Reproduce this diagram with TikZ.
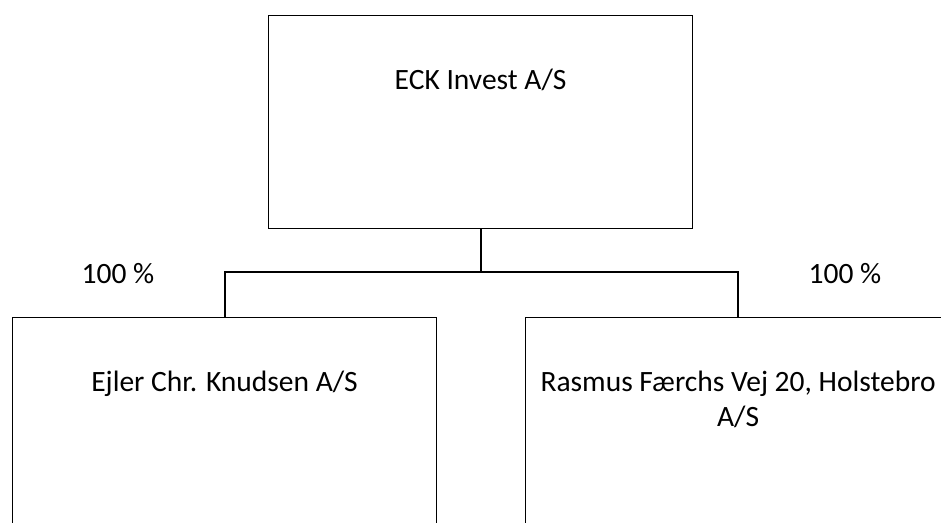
\documentclass[tikz,border=0pt]{standalone}
\usepackage{fontspec}
\setmainfont{Carlito}
\usepackage{tikz}
\usetikzlibrary{positioning}
\tikzset{
    company/.style={
           rectangle,
           draw=black, line width=1.2pt,
           minimum width=424pt,
           inner sep=0pt,
           anchor=north west,
           font=\fontsize{29.5}{35}\selectfont,
           },
    share/.style={
           font=\fontsize{29.5}{35}\selectfont,
           anchor=base,
           },
}

\begin{document}
\begin{tikzpicture}[x=1pt, y=-1pt, line width=2pt]
 \useasboundingbox (0,0) rectangle (941,522);
 \clip (0,0) rectangle (941,522);

 % Parent company on top
 % parbox holds the name near the top edge of the box
 \node[company] (ECK) at (268,15)
 {\parbox[t][213pt][t]{424pt}{\centering\rule{0pt}{73.5pt}ECK Invest A/S}};

 % Left subsidiary, runs off the bottom of the picture
 \node[company] (EJL) at (12,317)
 {\parbox[t][250pt][t]{424pt}{\centering\rule{0pt}{73.5pt}Ejler Chr. Knudsen A/S}};

 % Right subsidiary, runs off the right and bottom
 \node[company] (RFV) at (525,317)
 {\parbox[t][250pt][t]{425pt}{\centering\rule{0pt}{73.5pt}Rasmus Færchs Vej 20, Holstebro\\A/S}};

 % ownership shares
 \node[share] (pctEJL) at (118,283) {100 \%};
 \node[share] (pctRFV) at (845,283) {100 \%};

 % connectors
 \coordinate (bus) at (0,272);
 \draw (ECK.south) -- (ECK.south |- bus);
 \draw (EJL.north) |- (ECK.south |- bus) -| (RFV.north);
\end{tikzpicture}
\end{document}
